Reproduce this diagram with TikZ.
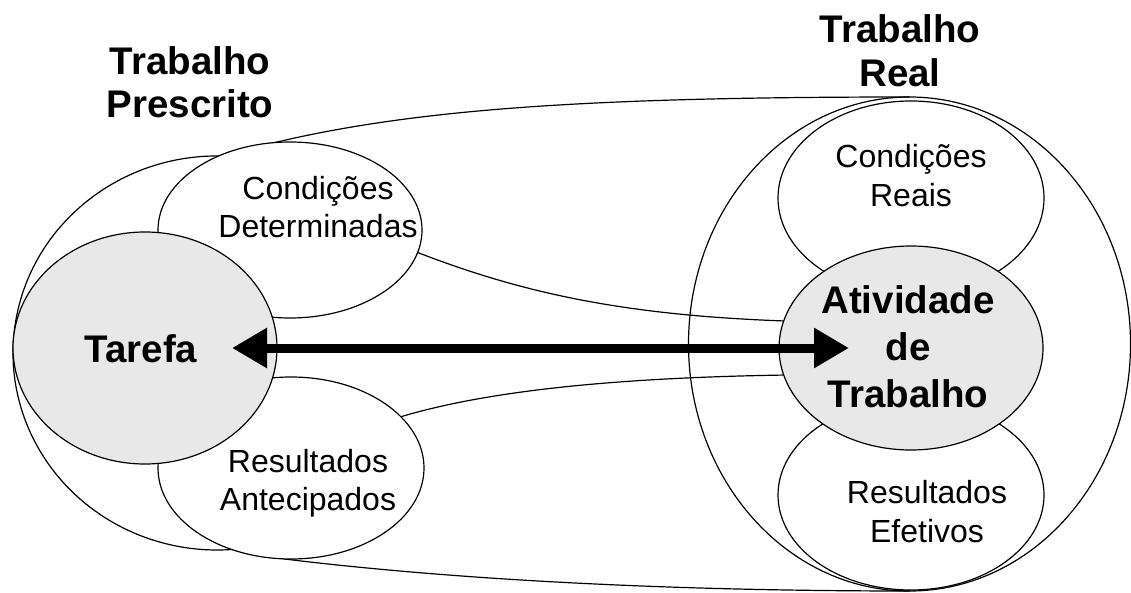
\documentclass[tikz,border=0pt]{standalone}
\usepackage{fontspec}
\setmainfont{Liberation Sans}
\usetikzlibrary{shapes.geometric,arrows.meta}
\pgfdeclarelayer{bg}
\pgfsetlayers{bg,main}
\definecolor{shade}{RGB}{232,232,232}
\begin{document}
\begin{tikzpicture}[x=1pt,y=-1pt,
  line width=1.2pt,
  oval/.style={ellipse, draw, inner sep=0pt, outer sep=0pt},
  smalloval/.style={oval, fill=white},
  mainoval/.style={oval, fill=shade},
  lbl/.style={anchor=base, inner sep=0pt, font=\fontsize{32}{38}\selectfont},
  blbl/.style={anchor=base, inner sep=0pt, font=\fontsize{38.5}{46}\selectfont\bfseries},
  link/.style={line width=1.2pt},
  bigarrow/.style={line width=9pt, {Triangle[length=35pt,width=38pt]}-{Triangle[length=35pt,width=38pt]}}
]
\useasboundingbox (0,0) rectangle (1131,593);

% ellipses
\node[oval, minimum width=442pt, minimum height=494pt] (real) at (909.5,344) {};
\node[smalloval, minimum width=264pt, minimum height=176pt] (cd) at (290,230) {};
\node[smalloval, minimum width=266pt, minimum height=182pt] (ra) at (291,468) {};
\node[smalloval, minimum width=266pt, minimum height=194pt] (cr) at (911,198) {};
\node[smalloval, minimum width=266pt, minimum height=190pt] (re) at (911,495) {};
\node[mainoval, minimum width=264pt, minimum height=232pt] (tarefa) at (145,348) {};
\node[mainoval, minimum width=264pt, minimum height=204pt] (atv) at (911,348) {};

% envelope and links (behind the ellipses)
\begin{pgfonlayer}{bg}
  \draw[link] ([shift={(280:204 and 197)}]217,353) arc[start angle=280, end angle=80, x radius=204, y radius=197];
  \draw[link] (cd.100) .. controls (420,108) and (600,97) .. (real.north);
  \draw[link] (ra.265) .. controls (440,578) and (650,591) .. (real.south);
  \draw[link] (cd.-10) .. controls (520,292) and (620,315) .. (atv.168);
  \draw[link] (ra.25) .. controls (480,393) and (600,378) .. (atv.192);
\end{pgfonlayer}

% double arrow
\draw[bigarrow] ([xshift=-45pt]tarefa.east) -- ([xshift=70pt]atv.west);

% texts
\node[blbl] (t1) at (190,75) {Trabalho};
\node[blbl] (t2) at (190,118) {Prescrito};
\node[blbl] (t3) at (900,43) {Trabalho};
\node[blbl] (t4) at (900,87) {Real};
\node[lbl] (cd1) at (318,200) {Condições};
\node[lbl] (cd2) at (318,238) {Determinadas};
\node[lbl] (ra1) at (308,472) {Resultados};
\node[lbl] (ra2) at (308,510) {Antecipados};
\node[blbl] (tf) at (141,362) {Tarefa};
\node[lbl] (cr1) at (911,168) {Condições};
\node[lbl] (cr2) at (911,207) {Reais};
\node[blbl] (a1) at (908,313) {Atividade};
\node[blbl] (a2) at (908,360) {de};
\node[blbl] (a3) at (908,407) {Trabalho};
\node[lbl] (re1) at (927,503) {Resultados};
\node[lbl] (re2) at (927,542) {Efetivos};
\end{tikzpicture}
\end{document}
